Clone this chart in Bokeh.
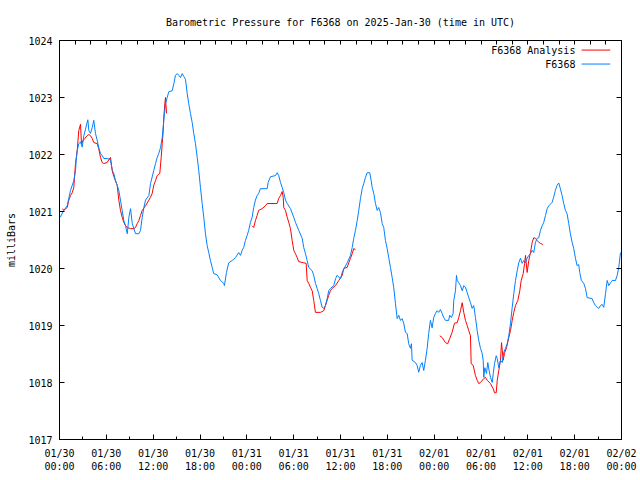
from bokeh.plotting import figure
from bokeh.models import LinearAxis, FixedTicker, Range1d, Label
from bokeh.embed import file_html
from bokeh.resources import INLINE

# ---- data: hours since 2025-01-30 00:00 UTC, pressure in milliBars ----
blue_h = [0.1, 0.55, 0.99, 1.19, 1.41, 1.63, 1.83, 2.05, 2.14, 2.27, 2.47, 2.69, 2.91, 3.12, 3.63, 3.76,
          3.97, 4.19, 4.39, 4.61, 4.83, 5.03, 5.25, 5.47, 5.68, 6.1, 6.53, 6.75, 6.96, 7.17, 7.39, 7.6,
          7.81, 8.03, 8.24, 8.46, 8.68, 8.89, 9.1, 9.32, 9.74, 10.17, 10.38, 10.6, 10.81, 11.02, 11.45,
          11.66, 12.08, 12.3, 12.52, 12.72, 12.94, 13.16, 13.36, 13.58, 13.8, 14.0, 14.44, 14.64, 14.86,
          15.08, 15.28, 15.5, 15.72, 15.92, 16.14, 16.36, 16.56, 16.78, 17.0, 17.2, 17.42, 17.64, 17.84,
          18.06, 18.28, 18.48, 18.7, 18.92, 19.12, 19.34, 19.56, 19.76, 20.19, 20.62, 21.04, 21.13, 21.39,
          21.68, 22.12, 22.54, 22.96, 23.19, 23.4, 23.6, 23.82, 24.04, 24.24, 24.46, 24.68, 24.88, 25.1,
          25.32, 25.52, 25.74, 26.6, 26.73, 27.03, 27.67, 27.89, 28.09, 28.31, 28.53, 28.73, 28.95, 29.17,
          29.59, 30.01, 30.23, 30.65, 31.09, 31.29, 31.51, 31.73, 31.93, 32.37, 32.57, 32.79, 33.01, 33.21,
          33.43, 33.65, 33.86, 34.07, 34.29, 34.49, 34.71, 35.14, 35.36, 35.57, 36.0, 36.22, 36.42, 36.86,
          37.28, 37.5, 37.7, 37.92, 38.14, 38.34, 38.56, 38.78, 38.98, 39.2, 39.41, 39.75, 39.93, 40.06,
          40.26, 40.48, 40.7, 40.9, 41.12, 41.34, 41.54, 41.76, 41.98, 42.18, 42.4, 42.62, 42.82, 43.04,
          43.26, 43.46, 43.68, 43.9, 44.1, 44.32, 44.54, 44.74, 44.96, 45.09, 45.18, 45.6, 45.82, 46.02,
          46.24, 46.46, 46.66, 46.88, 47.1, 47.3, 47.52, 47.74, 47.94, 48.16, 48.38, 48.58, 48.8, 49.02,
          49.22, 49.44, 49.86, 49.99, 50.21, 50.43, 50.51, 50.73, 50.86, 50.95, 51.15, 51.37, 51.59, 51.79,
          52.01, 52.23, 52.43, 52.65, 52.87, 53.07, 53.29, 53.51, 53.71, 53.93, 54.15, 54.28, 54.36, 54.49,
          54.7, 54.87, 55.05, 55.22, 55.44, 55.57, 55.73, 55.95, 56.08, 56.28, 56.5, 56.72, 56.92, 57.14,
          57.36, 57.56, 57.78, 58.0, 58.2, 58.42, 58.64, 58.84, 59.06, 59.28, 59.48, 59.7, 59.91, 60.12,
          60.34, 60.56, 60.76, 60.98, 61.2, 61.4, 61.62, 61.84, 62.04, 62.26, 62.48, 62.68, 63.11, 63.31,
          63.53, 63.75, 63.96, 64.17, 64.39, 64.6, 64.81, 65.03, 65.24, 65.45, 65.67, 65.88, 66.1, 66.31,
          66.52, 66.65, 66.86, 67.16, 67.38, 67.6, 68.24, 68.45, 68.66, 68.88, 69.09, 69.31, 69.52, 69.73,
          69.95, 70.17, 70.37, 70.59, 70.81, 71.23, 71.45, 71.65, 71.87]
blue_mb = [1020.90, 1021.02, 1021.10, 1021.23, 1021.37, 1021.46, 1021.54, 1021.72, 1021.90, 1022.07,
           1022.19, 1022.22, 1022.13, 1022.33, 1022.61, 1022.42, 1022.37, 1022.47, 1022.60, 1022.37,
           1022.25, 1022.12, 1022.02, 1021.98, 1021.93, 1021.93, 1021.91, 1021.72, 1021.67, 1021.54,
           1021.46, 1021.37, 1021.20, 1021.02, 1020.84, 1020.75, 1020.61, 1020.90, 1021.05, 1020.79,
           1020.61, 1020.61, 1020.67, 1020.90, 1021.07, 1021.20, 1021.28, 1021.49, 1021.72, 1021.84,
           1021.95, 1022.02, 1022.12, 1022.30, 1022.60, 1022.89, 1023.00, 1023.10, 1023.12, 1023.24,
           1023.39, 1023.42, 1023.39, 1023.35, 1023.42, 1023.37, 1023.32, 1023.07, 1022.89, 1022.72,
           1022.56, 1022.37, 1022.19, 1021.95, 1021.72, 1021.42, 1021.14, 1020.90, 1020.61, 1020.40,
           1020.28, 1020.14, 1020.02, 1019.91, 1019.89, 1019.79, 1019.74, 1019.70, 1019.93, 1020.10,
           1020.14, 1020.19, 1020.28, 1020.23, 1020.32, 1020.37, 1020.49, 1020.58, 1020.67, 1020.81,
           1020.90, 1021.07, 1021.20, 1021.28, 1021.32, 1021.40, 1021.40, 1021.51, 1021.61, 1021.63,
           1021.68, 1021.63, 1021.51, 1021.42, 1021.33, 1021.20, 1021.14, 1021.05, 1020.90, 1020.81,
           1020.67, 1020.53, 1020.37, 1020.26, 1020.14, 1020.02, 1019.96, 1019.88, 1019.74, 1019.65,
           1019.56, 1019.44, 1019.32, 1019.30, 1019.35, 1019.47, 1019.61, 1019.65, 1019.70, 1019.82,
           1019.88, 1019.82, 1019.93, 1019.99, 1020.10, 1020.23, 1020.37, 1020.53, 1020.67, 1020.84,
           1021.02, 1021.23, 1021.40, 1021.49, 1021.60, 1021.68, 1021.68, 1021.54, 1021.42, 1021.32,
           1021.14, 1021.02, 1021.07, 1020.98, 1020.79, 1020.72, 1020.49, 1020.35, 1020.19, 1020.02,
           1019.84, 1019.67, 1019.39, 1019.12, 1019.18, 1019.09, 1019.12, 1019.04, 1018.88, 1018.86,
           1018.68, 1018.60, 1018.68, 1018.39, 1018.35, 1018.30, 1018.18, 1018.30, 1018.35, 1018.21,
           1018.39, 1018.60, 1018.86, 1019.09, 1018.96, 1019.14, 1019.21, 1019.26, 1019.23, 1019.28,
           1019.21, 1019.14, 1019.09, 1019.09, 1019.18, 1019.14, 1019.21, 1019.44, 1019.61, 1019.88,
           1019.79, 1019.75, 1019.70, 1019.61, 1019.70, 1019.67, 1019.58, 1019.49, 1019.40, 1019.30,
           1019.35, 1019.14, 1018.91, 1018.74, 1018.60, 1018.51, 1018.39, 1018.09, 1018.26, 1018.16,
           1018.35, 1018.20, 1018.09, 1018.00, 1018.16, 1018.33, 1018.47, 1018.42, 1018.26, 1018.39,
           1018.35, 1018.53, 1018.60, 1018.68, 1018.82, 1019.04, 1019.32, 1019.56, 1019.79, 1019.96,
           1020.10, 1020.18, 1020.09, 1020.14, 1020.10, 1020.18, 1020.23, 1020.26, 1020.32, 1020.28,
           1020.46, 1020.53, 1020.54, 1020.67, 1020.75, 1020.81, 1020.93, 1021.05, 1021.10, 1021.16,
           1021.25, 1021.37, 1021.46, 1021.50, 1021.40, 1021.28, 1021.14, 1021.02, 1020.96, 1020.79,
           1020.61, 1020.46, 1020.35, 1020.18, 1020.05, 1020.07, 1019.93, 1019.79, 1019.74, 1019.65,
           1019.49, 1019.47, 1019.40, 1019.35, 1019.32, 1019.30, 1019.35, 1019.37, 1019.32, 1019.56,
           1019.79, 1019.70, 1019.75, 1019.79, 1019.79, 1019.88, 1020.02, 1020.28]

# F6368 Analysis: three separate stretches
ana1_h = [0.38, 0.55, 0.99, 1.19, 1.41, 1.63, 1.83, 2.05, 2.27, 2.47, 2.69, 2.82, 3.03, 3.24, 3.54, 3.76,
          3.97, 4.19, 4.39, 4.83, 5.03, 5.25, 5.47, 5.68, 6.1, 6.53, 6.66, 6.83, 7.17, 7.39, 7.6, 7.81,
          8.03, 8.24, 8.46, 8.68, 9.1, 9.53, 9.74, 9.96, 10.17, 10.38, 10.6, 11.02, 11.45, 11.66, 11.88,
          12.08, 12.3, 12.52, 12.85, 13.03, 13.16, 13.29, 13.36, 13.49, 13.58, 13.71]
ana1_mb = [1021.05, 1021.02, 1021.07, 1021.20, 1021.28, 1021.33, 1021.42, 1021.84, 1022.07, 1022.42,
           1022.53, 1022.19, 1022.25, 1022.28, 1022.33, 1022.35, 1022.33, 1022.28, 1022.21, 1022.19,
           1022.10, 1021.95, 1021.86, 1021.84, 1021.86, 1021.95, 1021.81, 1021.67, 1021.54, 1021.46,
           1021.20, 1021.02, 1020.90, 1020.81, 1020.75, 1020.72, 1020.70, 1020.70, 1020.72, 1020.79,
           1020.84, 1020.93, 1021.02, 1021.10, 1021.20, 1021.25, 1021.32, 1021.46, 1021.54, 1021.63,
           1021.67, 1021.95, 1022.19, 1022.42, 1022.65, 1022.89, 1023.00, 1022.72]
ana2_h = [24.68, 24.88, 25.1, 25.32, 25.52, 25.96, 26.38, 26.6, 27.88, 28.09, 28.31, 28.53, 28.66, 28.73,
          28.95, 29.17, 29.37, 29.59, 29.81, 30.01, 30.23, 30.45, 30.65, 31.29, 31.6, 31.73, 31.93, 32.15,
          32.37, 32.57, 32.79, 33.43, 33.86, 34.07, 34.29, 34.49, 34.71, 34.93, 35.36, 35.78, 36.22,
          36.42, 36.86, 37.06, 37.28, 37.5, 37.7, 37.92]
ana2_mb = [1020.75, 1020.72, 1020.84, 1020.93, 1021.02, 1021.05, 1021.10, 1021.14, 1021.14, 1021.23,
           1021.28, 1021.35, 1021.25, 1021.07, 1021.02, 1020.90, 1020.81, 1020.70, 1020.49, 1020.32,
           1020.26, 1020.19, 1020.12, 1020.10, 1020.09, 1019.79, 1019.74, 1019.67, 1019.61, 1019.44,
           1019.23, 1019.23, 1019.26, 1019.35, 1019.44, 1019.53, 1019.61, 1019.65, 1019.70, 1019.79,
           1019.88, 1020.00, 1020.02, 1020.10, 1020.18, 1020.26, 1020.35, 1020.33]
ana3_h = [48.72, 49.02, 49.44, 49.73, 49.99, 50.3, 50.6, 50.95, 51.15, 51.37, 51.59, 51.79, 52.01, 52.23,
          52.43, 52.65, 52.74, 53.0, 53.29, 53.51, 53.71, 53.93, 54.36, 54.57, 54.79, 55.22, 55.57, 55.73,
          55.95, 56.08, 56.28, 56.5, 56.63, 56.84, 57.01, 57.27, 57.56, 57.78, 58.0, 58.2, 58.42, 58.72,
          58.97, 59.15, 59.41, 59.58, 59.7, 59.91, 60.12, 60.34, 60.56, 60.76, 60.98, 61.2, 61.4, 61.62,
          61.92]
ana3_mb = [1018.82, 1018.79, 1018.70, 1018.68, 1018.77, 1018.88, 1019.04, 1019.05, 1019.14, 1019.26,
           1019.40, 1019.23, 1019.09, 1019.00, 1018.91, 1018.82, 1018.33, 1018.30, 1018.12, 1018.04,
           1017.98, 1018.00, 1018.07, 1018.09, 1018.04, 1017.98, 1017.89, 1017.82, 1017.82, 1018.04,
           1018.21, 1018.39, 1018.70, 1018.39, 1018.51, 1018.61, 1018.79, 1018.91, 1019.09, 1019.23,
           1019.35, 1019.44, 1019.61, 1019.79, 1019.91, 1020.09, 1020.23, 1019.93, 1020.14, 1020.28,
           1020.46, 1020.54, 1020.53, 1020.49, 1020.46, 1020.44, 1020.42]

x_ticks = [0, 6, 12, 18, 24, 30, 36, 42, 48, 54, 60, 66, 72]
x_minor = [3, 9, 15, 21, 27, 33, 39, 45, 51, 57, 63, 69]
x_top_ticks = list(range(0, 73, 2))
x_tick_labels = ["01/30\n00:00", "01/30\n06:00", "01/30\n12:00", "01/30\n18:00",
                 "01/31\n00:00", "01/31\n06:00", "01/31\n12:00", "01/31\n18:00",
                 "02/01\n00:00", "02/01\n06:00", "02/01\n12:00", "02/01\n18:00",
                 "02/02\n00:00"]
y_ticks = [1017, 1018, 1019, 1020, 1021, 1022, 1023, 1024]

TITLE = "Barometric Pressure for F6368 on 2025-Jan-30 (time in UTC)"
series_names = ["F6368 Analysis", "F6368"]
series_colors = ["#ff0000", "#0080ff"]

FONT = "DejaVu Sans Mono"
FS = "10px"

XMIN, XMAX, YMIN, YMAX = 0, 72, 1017, 1024

p = figure(frame_width=562, frame_height=399,
           x_range=Range1d(XMIN, XMAX), y_range=Range1d(YMIN, YMAX),
           output_backend="svg", toolbar_location=None,
           min_border_left=59, min_border_right=19, min_border_top=40, min_border_bottom=41,
           background_fill_color="white", border_fill_color="white")

p.title.text = TITLE
p.title.align = "center"
p.title.text_font = FONT
p.title.text_font_size = FS
p.title.text_font_style = "normal"
p.title.text_color = "black"
p.title.standoff = 25

p.grid.visible = False
p.outline_line_color = "black"
p.outline_line_width = 1

xa = p.xaxis[0]
xa.ticker = FixedTicker(ticks=x_ticks, minor_ticks=x_minor)
xa.major_label_overrides = {t: lab for t, lab in zip(x_ticks, x_tick_labels)}
ya = p.yaxis[0]
ya.ticker = FixedTicker(ticks=y_ticks)
ya.axis_label = "milliBars"
ya.axis_label_text_font = FONT
ya.axis_label_text_font_size = FS
ya.axis_label_text_font_style = "normal"
ya.axis_label_text_color = "black"
ya.axis_label_standoff = 8

for ax in (xa, ya):
    ax.major_label_text_font = FONT
    ax.major_label_text_font_size = FS
    ax.major_label_text_color = "black"
    ax.axis_line_color = "black"
    ax.major_tick_line_color = "black"
    ax.minor_tick_line_color = "black"
    ax.major_tick_in = 5
    ax.major_tick_out = 0
    ax.minor_tick_in = 3
    ax.minor_tick_out = 0
xa.major_label_standoff = 8
ya.major_label_standoff = 7

top = LinearAxis(ticker=FixedTicker(ticks=x_top_ticks),
                 major_label_overrides={t: "" for t in x_top_ticks},
                 major_tick_in=4, major_tick_out=0, minor_tick_in=0, minor_tick_out=0,
                 major_label_standoff=0, major_label_text_font_size="1px",
                 axis_line_color="black", major_tick_line_color="black")
p.add_layout(top, "above")
right = LinearAxis(ticker=FixedTicker(ticks=y_ticks),
                   major_label_overrides={t: "" for t in y_ticks},
                   major_tick_in=5, major_tick_out=0, minor_tick_in=0, minor_tick_out=0,
                   major_label_standoff=0, major_label_text_font_size="1px",
                   axis_line_color="black", major_tick_line_color="black")
p.add_layout(right, "right")

# series (analysis first, station drawn on top like gnuplot)
for hh, mm in ((ana1_h, ana1_mb), (ana2_h, ana2_mb), (ana3_h, ana3_mb)):
    p.line(hh, mm, line_color=series_colors[0], line_width=1)
p.line(blue_h, blue_mb, line_color=series_colors[1], line_width=1)

# gnuplot-style key in the upper right: text then line sample
def fx(f):
    return XMIN + f * (XMAX - XMIN)

def fy(f):
    return YMAX - f * (YMAX - YMIN)

for i, (name, col) in enumerate(zip(series_names, series_colors)):
    yy = fy(0.024 + i * 0.035)
    p.add_layout(Label(x=fx(0.918), y=yy, text=name, text_align="right", text_baseline="middle",
                       text_font=FONT, text_font_size=FS, text_color="black"))
    p.segment(x0=[fx(0.929)], y0=[yy], x1=[fx(0.980)], y1=[yy], line_color=col, line_width=1)

open("out.html", "w").write(file_html(p, INLINE))
